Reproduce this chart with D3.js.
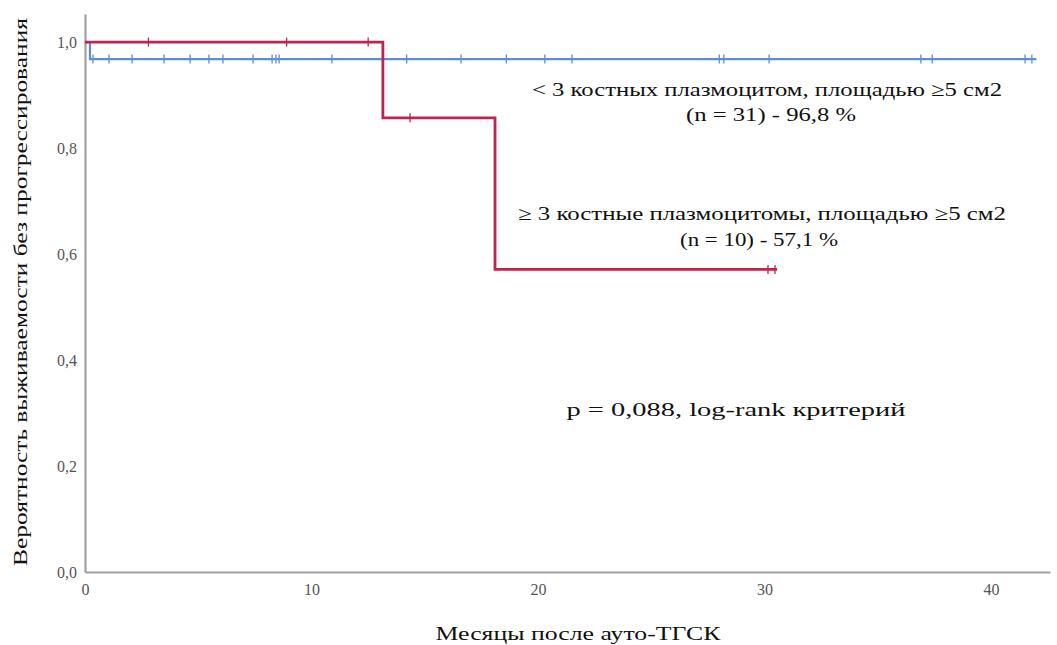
<!DOCTYPE html>
<html>
<head>
<meta charset="utf-8">
<script src="https://cdn.jsdelivr.net/npm/d3@7/dist/d3.min.js"></script>
<style>
  body { margin: 0; background: #fff; }
  svg { display: block; }
  svg text { font-family: 'Liberation Serif', 'Times New Roman', Tinos, 'DejaVu Serif', 'Noto Serif', serif !important; }
</style>
</head>
<body>
<svg id="chart" width="1057" height="645"></svg>
<script>
// ---- data ----
const yTicks = [0, 0.2, 0.4, 0.6, 0.8, 1.0];
const xTicks = [0, 10, 20, 30, 40];

const redStepTimes = [0, 13.15, 18.1];
const redStepSurv = [1.0, 0.857, 0.571];
const redEndTime = 30.55;
const redCensorTimes = [2.8, 8.9, 12.5, 14.35, 30.15, 30.46];

const blueStepTimes = [0, 0.22];
const blueStepSurv = [1.0, 0.968];
const blueEndTime = 42.0;
const blueCensorTimes = [0.35, 1.06, 2.08, 3.49, 4.64, 5.47, 6.09, 7.42, 8.26, 8.43, 8.57,
  10.9, 14.2, 16.6, 18.6, 20.3, 21.5, 28.0, 28.2, 30.2, 36.9, 37.4, 41.5, 41.8];

const labels = {
  blue1: "< 3 костных плазмоцитом, площадью ≥5 см2",
  blue2: "(n = 31) - 96,8 %",
  red1: "≥ 3 костные плазмоцитомы, площадью ≥5 см2",
  red2: "(n = 10) - 57,1 %",
  p: "p = 0,088, log-rank критерий",
  xTitle: "Месяцы после ауто-ТГСК",
  yTitle: "Вероятность выживаемости без прогрессирования"
};

// ---- chart ----
const serif = "'Liberation Serif', 'Times New Roman', Tinos, 'DejaVu Serif', serif";
const svg = d3.select("#chart");
const x = d3.scaleLinear().domain([0, 42.6]).range([85, 1050]);
const y = d3.scaleLinear().domain([0, 1.053]).range([572, 14]);

const redColor = "#bf2450";
const blueColor = "#5a8fd8";
const axisColor = "#a0a0a0";
const tickTextColor = "#555";

// axes
const yAxis = svg.append("g").attr("transform", `translate(${x(0)},0)`)
  .call(d3.axisLeft(y).tickValues(yTicks).tickSize(0).tickPadding(8)
    .tickFormat(d => d3.format(".1f")(d).replace(".", ",")));
const xAxis = svg.append("g").attr("transform", `translate(0,${y(0)})`)
  .call(d3.axisBottom(x).tickValues(xTicks).tickSize(0).tickPadding(12)
    .tickFormat(d => String(d)));
[yAxis, xAxis].forEach(g => {
  g.attr("font-family", serif);
  g.select(".domain").attr("stroke", axisColor).attr("stroke-width", 2.2);
  g.selectAll("text").attr("fill", tickTextColor).attr("font-size", 16)
    .style("font-family", serif);
});
yAxis.selectAll("text").attr("dy", "0.32em");

function stepPath(times, surv, endT) {
  const pts = [];
  for (let i = 0; i < times.length; i++) {
    if (i > 0) pts.push([times[i], surv[i - 1]]);
    pts.push([times[i], surv[i]]);
  }
  pts.push([endT, surv[surv.length - 1]]);
  return d3.line().x(d => x(d[0])).y(d => y(d[1]))(pts);
}
function survAt(times, surv, t) {
  let s = surv[0];
  for (let i = 0; i < times.length; i++) if (t >= times[i]) s = surv[i];
  return s;
}

function drawCurve(times, surv, endT, censors, color, width) {
  svg.append("path").attr("d", stepPath(times, surv, endT))
    .attr("fill", "none").attr("stroke", color).attr("stroke-width", width)
    .attr("stroke-linejoin", "miter");
  svg.append("g").selectAll("line").data(censors).join("line")
    .attr("x1", d => x(d)).attr("x2", d => x(d))
    .attr("y1", d => y(survAt(times, surv, d)) - 4.5)
    .attr("y2", d => y(survAt(times, surv, d)) + 4.5)
    .attr("stroke", color).attr("stroke-width", 1.3);
}

drawCurve(blueStepTimes, blueStepSurv, blueEndTime, blueCensorTimes, blueColor, 2.2);
drawCurve(redStepTimes, redStepSurv, redEndTime, redCensorTimes, redColor, 2.8);

// annotations (widths matched to the reference via textLength)
function txt(s, cx, cy, size, len) {
  svg.append("text").attr("x", cx).attr("y", cy).attr("text-anchor", "middle")
    .attr("font-size", size).attr("fill", "#111")
    .style("font-family", serif)
    .attr("textLength", len).attr("lengthAdjust", "spacingAndGlyphs")
    .text(s);
}
txt(labels.blue1, 767, 96, 19, 470);
txt(labels.blue2, 771, 121, 19, 170);
txt(labels.red1, 762, 220, 19, 488);
txt(labels.red2, 759, 246, 19, 158);
txt(labels.p, 736, 416, 19, 339);
txt(labels.xTitle, 578, 640, 19, 285);

svg.append("text")
  .attr("transform", `translate(27,292) rotate(-90)`)
  .attr("text-anchor", "middle").attr("font-size", 19).attr("fill", "#111")
  .style("font-family", serif)
  .attr("textLength", 548).attr("lengthAdjust", "spacingAndGlyphs")
  .text(labels.yTitle);
</script>
</body>
</html>
